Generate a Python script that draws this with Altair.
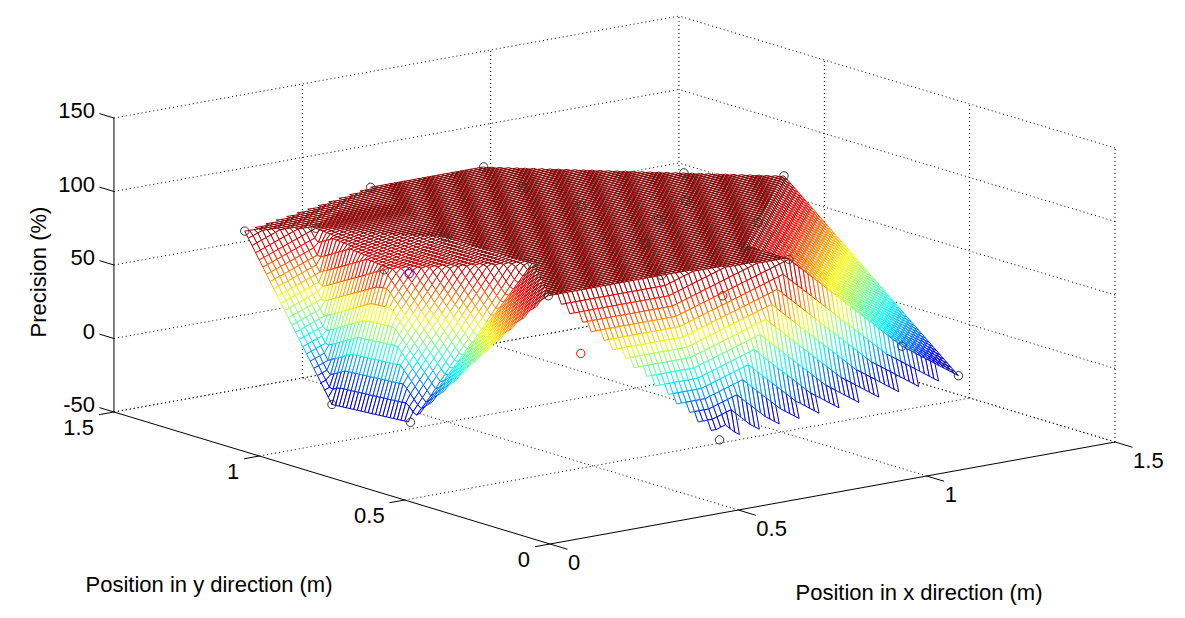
import altair as alt
import numpy as np
import pandas as pd

alt.data_transformers.disable_max_rows()

# measured positions (m) and precision (%)
sample_x = [0.00, 0.15, 0.45, 0.75, 1.05, 1.20, 0.70, 0.70, 0.90, 0.75, 0.90, 0.60,
            0.75, 0.30, 0.30, 0.45, 0.75, 0.15, 0.00, 0.10, 0.00, 0.45, 1.05, 1.20]
sample_y = [1.05, 1.00, 1.20, 1.20, 0.90, 0.75, 1.00, 0.80, 0.70, 0.60, 0.45, 0.45,
            0.30, 0.75, 0.45, 0.20, 0.15, 0.20, 0.75, 0.70, 0.48, 0.00, 0.15, 0.15]
sample_z = [100, 98, 100, 100, 100, 100, 100, 100, 100, 100, 100, 100,
            100, 100, 100, 100, 100, 100, 0, 90, 4, 0, 27, 0]

# coloured marker points
marker_x = [0.12, 0.29, 0.52]
marker_y = [0.64, 0.27, 0.08]
marker_z = [90, 50, 90]
marker_kind = ["blue", "red", "red"]

x_ticks = [0, 0.5, 1, 1.5]
y_ticks = [0, 0.5, 1, 1.5]
z_ticks = [-50, 0, 50, 100, 150]
x_labels = ["0", "0.5", "1", "1.5"]
y_labels = ["0", "0.5", "1", "1.5"]
z_labels = ["-50", "0", "50", "100", "150"]

FONT = "Liberation Sans"
MESH_STEP = 0.0125


def project(x, y, z):
    # fixed MATLAB-like view (az/el) onto page pixels
    x = np.asarray(x, dtype=float)
    y = np.asarray(y, dtype=float)
    z = np.asarray(z, dtype=float)
    sx = 550 + 376.7 * x - 290.7 * y
    sy = 544 - 68.0 * x - 88.0 * y - 1.47 * (z + 50)
    return sx, sy


def depth(x, y, z):
    return 423.7 * x / 1.5 + 550.6 * y / 1.5 - 71.0 * (z + 50) / 200


def delaunay(px, py):
    pts = list(zip(px, py)) + [(-100.0, -100.0), (100.0, -100.0), (0.0, 100.0)]
    n = len(px)
    tris = [(n, n + 1, n + 2)]
    for i in range(n):
        x, y = pts[i]
        bad = []
        for t in tris:
            (ax, ay), (bx, by), (cx, cy) = (pts[k] for k in t)
            d = 2 * (ax * (by - cy) + bx * (cy - ay) + cx * (ay - by))
            a2, b2, c2 = ax * ax + ay * ay, bx * bx + by * by, cx * cx + cy * cy
            ux = (a2 * (by - cy) + b2 * (cy - ay) + c2 * (ay - by)) / d
            uy = (a2 * (cx - bx) + b2 * (ax - cx) + c2 * (bx - ax)) / d
            if (x - ux) ** 2 + (y - uy) ** 2 < (ax - ux) ** 2 + (ay - uy) ** 2 - 1e-12:
                bad.append(t)
        edges = {}
        for t in bad:
            for e in ((t[0], t[1]), (t[1], t[2]), (t[2], t[0])):
                edges.setdefault(tuple(sorted(e)), []).append(e)
        tris = [t for t in tris if t not in bad]
        tris += [(e[0][0], e[0][1], i) for e in edges.values() if len(e) == 1]
    return [t for t in tris if max(t) < n]


# linear surface on the triangulation (like griddata), NaN outside the hull
sxa, sya, sza = (np.array(v, dtype=float) for v in (sample_x, sample_y, sample_z))
nodes = np.linspace(0, 1.5, int(round(1.5 / MESH_STEP)) + 1)
GX, GY = np.meshgrid(nodes, nodes, indexing="ij")
GZ = np.full(GX.shape, np.nan)
for a, b, c in delaunay(sample_x, sample_y):
    ax, ay, bx, by, cx, cy = sxa[a], sya[a], sxa[b], sya[b], sxa[c], sya[c]
    det = (by - cy) * (ax - cx) + (cx - bx) * (ay - cy)
    if abs(det) < 1e-12:
        continue
    l1 = ((by - cy) * (GX - cx) + (cx - bx) * (GY - cy)) / det
    l2 = ((cy - ay) * (GX - cx) + (ax - cx) * (GY - cy)) / det
    l3 = 1 - l1 - l2
    inside = (l1 >= -1e-9) & (l2 >= -1e-9) & (l3 >= -1e-9) & np.isnan(GZ)
    GZ[inside] = (l1 * sza[a] + l2 * sza[b] + l3 * sza[c])[inside]

ok = (np.isfinite(GZ[:-1, :-1]) & np.isfinite(GZ[1:, :-1])
      & np.isfinite(GZ[1:, 1:]) & np.isfinite(GZ[:-1, 1:]))
ii, jj = np.nonzero(ok)
ci = np.stack([ii, ii + 1, ii + 1, ii, ii], axis=1)
cj = np.stack([jj, jj, jj + 1, jj + 1, jj], axis=1)
qx, qy, qz = GX[ci, cj], GY[ci, cj], GZ[ci, cj]
qc = qz[:, :4].mean(axis=1)
qd = depth(qx[:, :4], qy[:, :4], qz[:, :4]).mean(axis=1)
rank = np.argsort(-qd)  # far quads first
qx, qy, qz, qc = qx[rank], qy[rank], qz[rank], qc[rank]
msx, msy = project(qx, qy, qz)
mesh = pd.DataFrame({
    "q": np.repeat(np.arange(len(qc)), 5),
    "k": np.tile(np.arange(5), len(qc)),
    "sx": msx.ravel().round(2),
    "sy": msy.ravel().round(2),
    "c": np.repeat(qc, 5).round(1),
})


def seg_frame(segs):
    s = np.array(segs, dtype=float)
    sx, sy = project(s[:, 0], s[:, 1], s[:, 2])
    sx2, sy2 = project(s[:, 3], s[:, 4], s[:, 5])
    return pd.DataFrame({"sx": sx, "sy": sy, "sx2": sx2, "sy2": sy2})


zlo, zhi = z_ticks[0], z_ticks[-1]
xmax, ymax = x_ticks[-1], y_ticks[-1]
grid_segs = []
for xt in x_ticks[1:]:
    grid_segs.append((xt, ymax, zlo, xt, ymax, zhi))
    grid_segs.append((xt, 0, zlo, xt, ymax, zlo))
for yt in y_ticks[:-1]:
    grid_segs.append((xmax, yt, zlo, xmax, yt, zhi))
for yt in y_ticks[1:]:
    grid_segs.append((0, yt, zlo, xmax, yt, zlo))
for zt in z_ticks:
    grid_segs.append((0, ymax, zt, xmax, ymax, zt))
    grid_segs.append((xmax, 0, zt, xmax, ymax, zt))
grid = seg_frame(grid_segs)

axis_segs = [(0, ymax, zlo, 0, ymax, zhi), (0, 0, zlo, 0, ymax, zlo), (0, 0, zlo, xmax, 0, zlo)]
axis_segs += [(xt, 0, zlo, xt, -0.06, zlo) for xt in x_ticks]
axis_segs += [(0, yt, zlo, -0.04, yt, zlo) for yt in y_ticks]
axis_segs += [(0, ymax, zt, 0, ymax + 0.05, zt) for zt in z_ticks]
axes = seg_frame(axis_segs)

psx, psy = project(sample_x, sample_y, sample_z)
points = pd.DataFrame({"sx": psx, "sy": psy})
msx2, msy2 = project(marker_x, marker_y, marker_z)
markers = pd.DataFrame({"sx": msx2, "sy": msy2, "kind": marker_kind})

lx, ly = project(x_ticks, [0] * 4, [zlo] * 4)
xlab = pd.DataFrame({"sx": lx, "sy": ly, "t": x_labels})
lx, ly = project([0] * 4, y_ticks, [zlo] * 4)
ylab = pd.DataFrame({"sx": lx, "sy": ly, "t": y_labels})
lx, ly = project([0] * 5, [ymax] * 5, z_ticks)
zlab = pd.DataFrame({"sx": lx, "sy": ly, "t": z_labels})

titles = pd.DataFrame({
    "sx": [209, 919], "sy": [585, 593],
    "t": ["Position in y direction (m)", "Position in x direction (m)"],
})
ztitle = pd.DataFrame({"sx": [39], "sy": [272], "t": ["Precision (%)"]})

X = alt.X("sx:Q", scale=alt.Scale(domain=[8, 1177], nice=False, zero=False), axis=None)
Y = alt.Y("sy:Q", scale=alt.Scale(domain=[610, 8], nice=False, zero=False), axis=None)

jet = alt.Scale(
    domain=[0, 12.5, 37.5, 62.5, 87.5, 100],
    range=["#00008f", "#0000ff", "#00ffff", "#ffff00", "#ff0000", "#800000"],
    interpolate="rgb",
    clamp=True,
)

grid_layer = alt.Chart(grid).mark_rule(color="black", strokeWidth=1, strokeDash=[1, 3]).encode(
    x=X, y=Y, x2="sx2:Q", y2="sy2:Q"
)
axis_layer = alt.Chart(axes).mark_rule(color="black", strokeWidth=1).encode(
    x=X, y=Y, x2="sx2:Q", y2="sy2:Q"
)
mesh_layer = alt.Chart(mesh).mark_line(fill="white", strokeWidth=1.0, strokeJoin="miter").encode(
    x=X, y=Y,
    detail="q:Q",
    order="k:Q",
    color=alt.Color("c:Q", scale=jet, legend=None),
)
point_layer = alt.Chart(points).mark_point(
    shape="circle", filled=False, size=70, strokeWidth=1, color="#333333", opacity=1
).encode(x=X, y=Y)
marker_layer = alt.Chart(markers).mark_point(
    shape="circle", filled=False, size=70, strokeWidth=1, opacity=1
).encode(
    x=X, y=Y,
    color=alt.Color("kind:N", scale=alt.Scale(domain=["blue", "red"], range=["#0000ff", "#ff0000"]), legend=None),
)


def text_layer(df, **kw):
    return alt.Chart(df).mark_text(font=FONT, fontSize=22, color="black", baseline="middle", **kw).encode(
        x=X, y=Y, text="t:N"
    )


layers = [
    grid_layer,
    axis_layer,
    mesh_layer,
    point_layer,
    marker_layer,
    text_layer(xlab, align="left", dx=18, dy=19),
    text_layer(ylab, align="right", dx=-20, dy=16),
    text_layer(zlab, align="right", dx=-19, dy=-7),
    text_layer(titles, align="center"),
    text_layer(ztitle, align="center", angle=270),
]

chart = alt.layer(*layers).properties(
    width=1169, height=602, padding=0, autosize="none", background="white"
).configure_view(stroke=None)

chart.save("out.html", embed_options={"renderer": "svg", "actions": False})
